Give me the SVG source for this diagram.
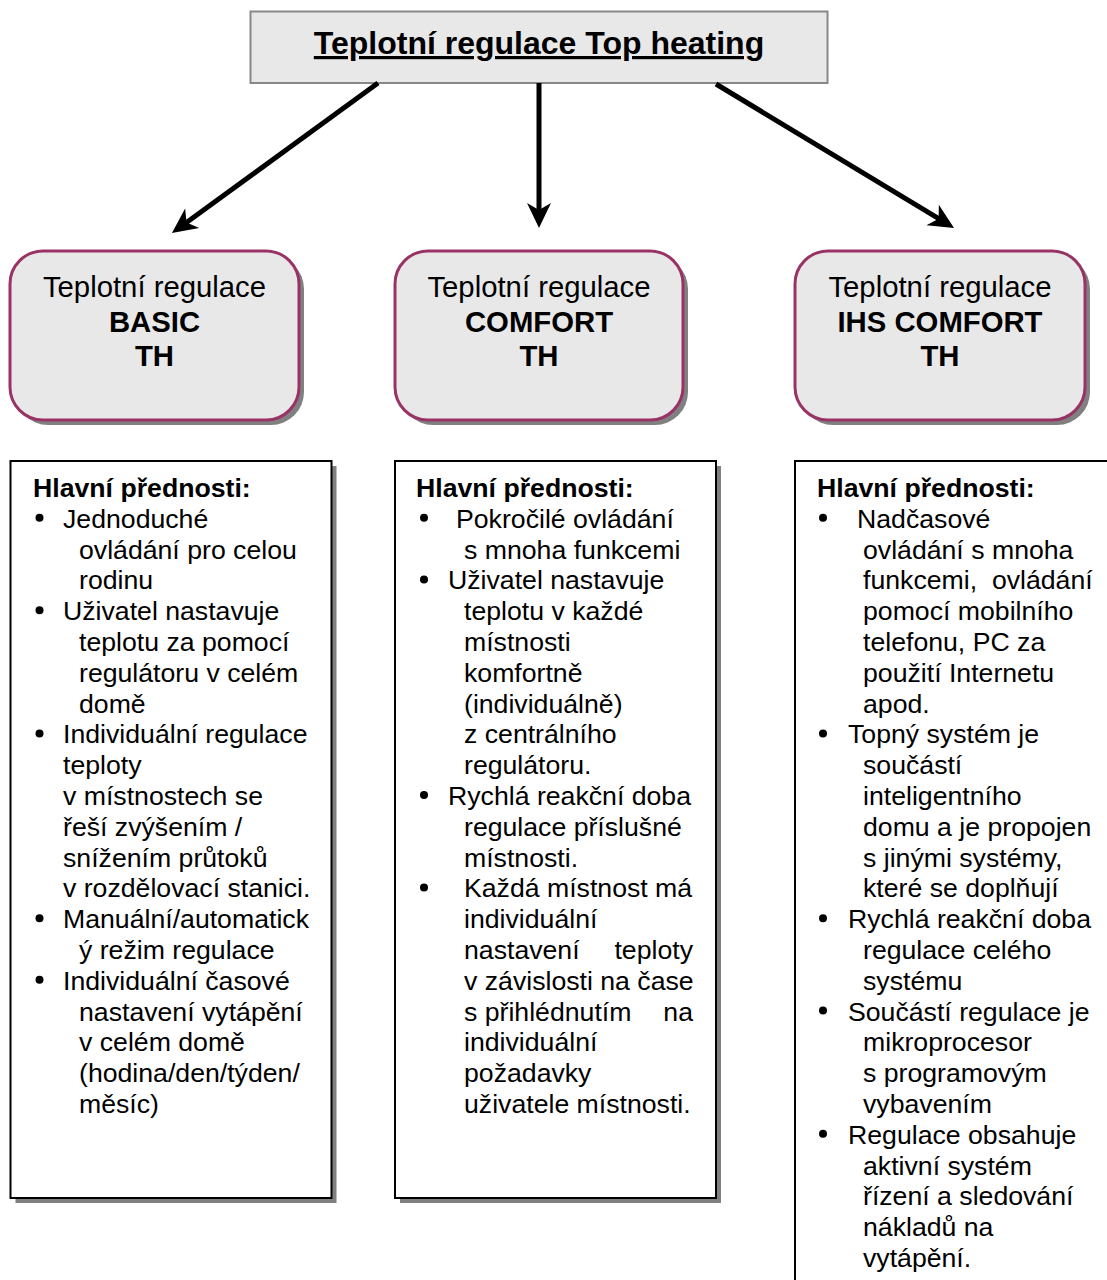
<svg xmlns="http://www.w3.org/2000/svg" width="1107" height="1280" viewBox="0 0 1107 1280">
<defs>
<style>
text{font-family:"Liberation Sans",Arial,sans-serif;fill:#000}
.title{font-size:32px;font-weight:bold;text-decoration:underline}
.rt{font-size:29.3px;text-anchor:middle}
.b{font-weight:bold}
.t{font-size:26.67px}
.rbox{fill:#e8e8e8;stroke:#993366;stroke-width:3}
.rsh{fill:#808080}
.tbox{fill:#fff;stroke:#000;stroke-width:2}
.tsh{fill:#808080}
.conn{stroke:#000;stroke-width:5;fill:none}
.bul{fill:#000}
</style>
<marker id="ah" markerUnits="userSpaceOnUse" markerWidth="40" markerHeight="40" viewBox="-30 -20 40 40" refX="-15" refY="0" orient="auto">
<path d="M0,0 L-25,-12 L-18,0 L-25,12 Z" fill="#000"/>
</marker>
</defs>
<rect width="1107" height="1280" fill="#fff"/>

<g id="title">
<rect x="250.5" y="11.5" width="577" height="71.5" fill="#e8e8e8" stroke="#888" stroke-width="2"/>
<text class="title" x="539" y="54" text-anchor="middle">Teplotní regulace Top heating</text>
</g>

<g id="connectors">
<path class="conn" d="M378,83 L184.1,224.2" marker-end="url(#ah)"/>
<path class="conn" d="M539,83 L539,213" stroke-width="4" marker-end="url(#ah)"/>
<path class="conn" d="M716,84 L941.2,220.2" marker-end="url(#ah)"/>
</g>

<g id="basic">
<rect class="rsh" x="15" y="256" width="289" height="169" rx="33"/>
<rect class="rbox" x="10" y="251" width="289" height="169" rx="33"/>
<text class="rt" x="154.5" y="297">Teplotní regulace</text>
<text class="rt b" x="154.5" y="332">BASIC</text>
<text class="rt b" x="154.5" y="366">TH</text>
</g>

<g id="comfort">
<rect class="rsh" x="400" y="256" width="288" height="169" rx="33"/>
<rect class="rbox" x="395" y="251" width="288" height="169" rx="33"/>
<text class="rt" x="539" y="297">Teplotní regulace</text>
<text class="rt b" x="539" y="332">COMFORT</text>
<text class="rt b" x="539" y="366">TH</text>
</g>

<g id="ihs-comfort">
<rect class="rsh" x="800" y="256" width="290" height="169" rx="33"/>
<rect class="rbox" x="795" y="251" width="290" height="169" rx="33"/>
<text class="rt" x="940" y="297">Teplotní regulace</text>
<text class="rt b" x="940" y="332">IHS COMFORT</text>
<text class="rt b" x="940" y="366">TH</text>
</g>

<g id="basic-features">
<rect class="tsh" x="15.5" y="466" width="321" height="737"/>
<rect class="tbox" x="10.5" y="461" width="321" height="737"/>
<text class="t b" x="33" y="497">Hlavní přednosti:</text>
<circle class="bul" cx="39.5" cy="517.8" r="4"/>
<text class="t" x="63" y="527.8">Jednoduché</text>
<text class="t" x="79" y="558.6">ovládání pro celou</text>
<text class="t" x="79" y="589.4">rodinu</text>
<circle class="bul" cx="39.5" cy="610.2" r="4"/>
<text class="t" x="63" y="620.2">Uživatel nastavuje</text>
<text class="t" x="79" y="651">teplotu za pomocí</text>
<text class="t" x="79" y="681.8">regulátoru v celém</text>
<text class="t" x="79" y="712.6">domě</text>
<circle class="bul" cx="39.5" cy="733.4" r="4"/>
<text class="t" x="63" y="743.4">Individuální regulace</text>
<text class="t" x="63" y="774.2">teploty</text>
<text class="t" x="63" y="805">v místnostech se</text>
<text class="t" x="63" y="835.8">řeší zvýšením /</text>
<text class="t" x="63" y="866.6">snížením průtoků</text>
<text class="t" x="63" y="897.4">v rozdělovací stanici.</text>
<circle class="bul" cx="39.5" cy="918.2" r="4"/>
<text class="t" x="63" y="928.2">Manuální/automatick</text>
<text class="t" x="79" y="959">ý režim regulace</text>
<circle class="bul" cx="39.5" cy="979.8" r="4"/>
<text class="t" x="63" y="989.8">Individuální časové</text>
<text class="t" x="79" y="1020.6">nastavení vytápění</text>
<text class="t" x="79" y="1051.4">v celém domě</text>
<text class="t" x="79" y="1082.2">(hodina/den/týden/</text>
<text class="t" x="79" y="1113">měsíc)</text>
</g>

<g id="comfort-features">
<rect class="tsh" x="400" y="466" width="321" height="737"/>
<rect class="tbox" x="395" y="461" width="321" height="737"/>
<text class="t b" x="416" y="497">Hlavní přednosti:</text>
<circle class="bul" cx="424" cy="517.8" r="4"/>
<text class="t" x="456" y="527.8">Pokročilé ovládání</text>
<text class="t" x="464" y="558.6">s mnoha funkcemi</text>
<circle class="bul" cx="424" cy="579.4" r="4"/>
<text class="t" x="448" y="589.4">Uživatel nastavuje</text>
<text class="t" x="464" y="620.2">teplotu v každé</text>
<text class="t" x="464" y="651">místnosti</text>
<text class="t" x="464" y="681.8">komfortně</text>
<text class="t" x="464" y="712.6">(individuálně)</text>
<text class="t" x="464" y="743.4">z centrálního</text>
<text class="t" x="464" y="774.2">regulátoru.</text>
<circle class="bul" cx="424" cy="795" r="4"/>
<text class="t" x="448" y="805">Rychlá reakční doba</text>
<text class="t" x="464" y="835.8">regulace příslušné</text>
<text class="t" x="464" y="866.6">místnosti.</text>
<circle class="bul" cx="424" cy="887.4" r="4"/>
<text class="t" x="464" y="897.4">Každá místnost má</text>
<text class="t" x="464" y="928.2">individuální</text>
<text class="t" x="464" y="959">nastavení</text>
<text class="t" x="693" y="959" text-anchor="end">teploty</text>
<text class="t" x="464" y="989.8">v závislosti na čase</text>
<text class="t" x="464" y="1020.6">s přihlédnutím</text>
<text class="t" x="693" y="1020.6" text-anchor="end">na</text>
<text class="t" x="464" y="1051.4">individuální</text>
<text class="t" x="464" y="1082.2">požadavky</text>
<text class="t" x="464" y="1113">uživatele místnosti.</text>
</g>

<g id="ihs-comfort-features">
<rect class="tbox" x="795" y="461" width="330" height="840"/>
<text class="t b" x="817" y="497">Hlavní přednosti:</text>
<circle class="bul" cx="823" cy="517.8" r="4"/>
<text class="t" x="857" y="527.8">Nadčasové</text>
<text class="t" x="863" y="558.6">ovládání s mnoha</text>
<text class="t" x="863" y="589.4" xml:space="preserve">funkcemi,  ovládání</text>
<text class="t" x="863" y="620.2">pomocí mobilního</text>
<text class="t" x="863" y="651">telefonu, PC za</text>
<text class="t" x="863" y="681.8">použití Internetu</text>
<text class="t" x="863" y="712.6">apod.</text>
<circle class="bul" cx="823" cy="733.4" r="4"/>
<text class="t" x="848" y="743.4">Topný systém je</text>
<text class="t" x="863" y="774.2">součástí</text>
<text class="t" x="863" y="805">inteligentního</text>
<text class="t" x="863" y="835.8">domu a je propojen</text>
<text class="t" x="863" y="866.6">s jinými systémy,</text>
<text class="t" x="863" y="897.4">které se doplňují</text>
<circle class="bul" cx="823" cy="918.2" r="4"/>
<text class="t" x="848" y="928.2">Rychlá reakční doba</text>
<text class="t" x="863" y="959">regulace celého</text>
<text class="t" x="863" y="989.8">systému</text>
<circle class="bul" cx="823" cy="1010.6" r="4"/>
<text class="t" x="848" y="1020.6">Součástí regulace je</text>
<text class="t" x="863" y="1051.4">mikroprocesor</text>
<text class="t" x="863" y="1082.2">s programovým</text>
<text class="t" x="863" y="1113">vybavením</text>
<circle class="bul" cx="823" cy="1133.8" r="4"/>
<text class="t" x="848" y="1143.8">Regulace obsahuje</text>
<text class="t" x="863" y="1174.6">aktivní systém</text>
<text class="t" x="863" y="1205.4">řízení a sledování</text>
<text class="t" x="863" y="1236.2">nákladů na</text>
<text class="t" x="863" y="1267">vytápění.</text>
</g>
</svg>
